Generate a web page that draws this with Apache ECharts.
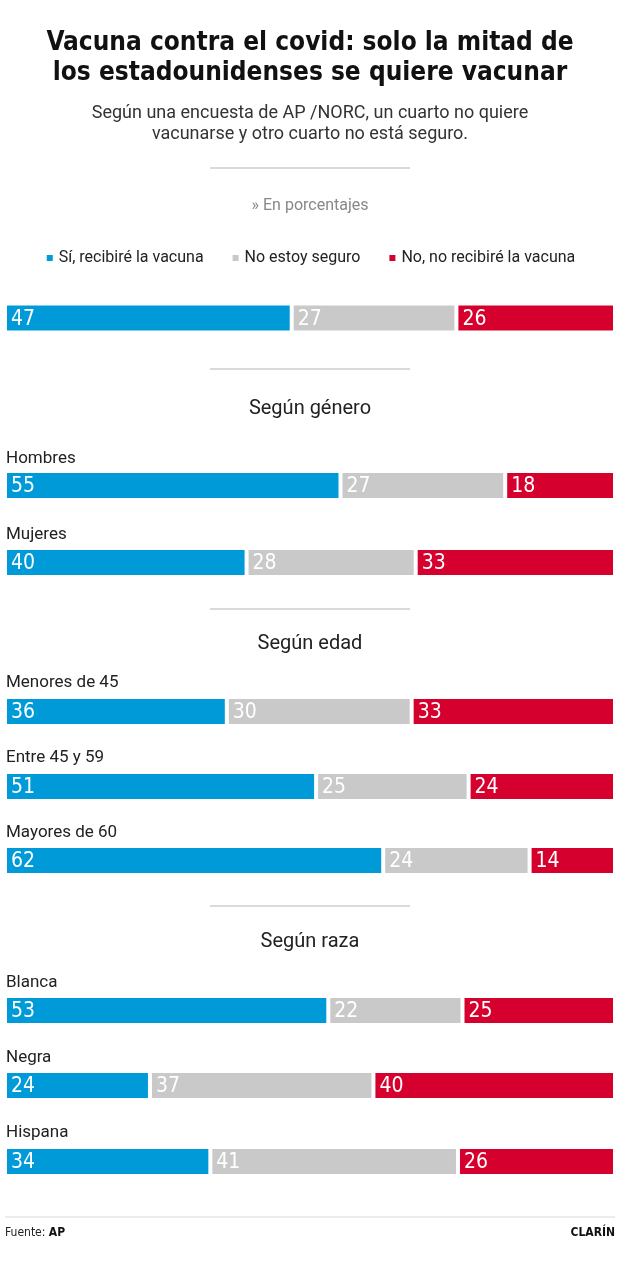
<!DOCTYPE html>
<html>
<head>
<meta charset="utf-8">
<script src="https://cdn.jsdelivr.net/npm/echarts@6/dist/echarts.min.js"></script>
<style>html,body{margin:0;padding:0;background:#fff}#c{width:620px;height:1273px}</style>
</head>
<body>
<div id="c"></div>
<script>
// ---- data ----
var categories = ['Total', 'Hombres', 'Mujeres', 'Menores de 45', 'Entre 45 y 59', 'Mayores de 60', 'Blanca', 'Negra', 'Hispana'];
var rowLabels = ['', 'Hombres', 'Mujeres', 'Menores de 45', 'Entre 45 y 59', 'Mayores de 60', 'Blanca', 'Negra', 'Hispana'];
var seriesNames = ['Sí, recibiré la vacuna', 'No estoy seguro', 'No, no recibiré la vacuna'];
var siValues = [47, 55, 40, 36, 51, 62, 53, 24, 34];
var noSeguroValues = [27, 27, 28, 30, 25, 24, 22, 37, 41];
var noValues = [26, 18, 33, 33, 24, 14, 25, 40, 26];
var sectionTitles = ['Según género', 'Según edad', 'Según raza'];

// ---- layout ----
var colors = ['#009ad8', '#c9c9c9', '#d6002f'];
var barTops = [304.5, 472, 549, 698, 773, 847, 997, 1072, 1148];
var barH = 27;
var labelYs = [0, 458.5, 534.5, 682.5, 757.5, 832.5, 982.5, 1057.5, 1132.5];
var sepYs = [168, 369, 609, 906];
var sectionYs = [408, 643, 941];
var condensed = "'DejaVu Sans Condensed', Roboto, sans-serif";
var regular = "Roboto, 'Liberation Sans', sans-serif";

var allValues = [siValues, noSeguroValues, noValues];
var grids = [], xAxes = [], yAxes = [], series = [];
categories.forEach(function (cat, i) {
  var sum = siValues[i] + noSeguroValues[i] + noValues[i];
  grids.push({ left: 5, right: 5, top: barTops[i] - 1, height: barH + 2, containLabel: false });
  xAxes.push({ type: 'value', gridIndex: i, min: 0, max: sum, show: false });
  yAxes.push({ type: 'category', gridIndex: i, data: [cat], show: false });
  for (var s = 0; s < 3; s++) {
    series.push({
      type: 'bar', name: seriesNames[s], stack: 'row' + i,
      xAxisIndex: i, yAxisIndex: i, barWidth: '100%',
      data: [allValues[s][i]],
      itemStyle: { color: colors[s], borderColor: '#fff', borderWidth: 2 },
      label: { show: true, position: 'insideLeft', distance: 6, offset: [0, 1.5], color: '#fff',
        fontSize: 21, fontFamily: condensed },
      emphasis: { disabled: true },
      silent: true
    });
  }
});

var graphics = [];
function txt(t, x, y, font, fill, align) {
  graphics.push({ type: 'text', silent: true,
    style: { text: t, x: x, y: y, font: font, fill: fill, align: align || 'left', verticalAlign: 'middle' } });
}
txt('Vacuna contra el covid: solo la mitad de', 310, 43, "bold 26px " + condensed, '#111', 'center');
txt('los estadounidenses se quiere vacunar', 310, 73, "bold 26px " + condensed, '#111', 'center');
txt('Según una encuesta de AP /NORC, un cuarto no quiere', 310, 113, "18px " + regular, '#333', 'center');
txt('vacunarse y otro cuarto no está seguro.', 310, 134, "18px " + regular, '#333', 'center');
txt('» En porcentajes', 310, 206, "16px " + regular, '#888', 'center');
sepYs.forEach(function (y) {
  graphics.push({ type: 'line', silent: true, shape: { x1: 210, y1: y, x2: 410, y2: y },
    style: { stroke: '#b5b5b5', lineWidth: 1.2 } });
});
sectionTitles.forEach(function (t, k) {
  txt(t, 310, sectionYs[k] + 1, "20px " + regular, '#222', 'center');
});
rowLabels.forEach(function (t, i) {
  if (t) txt(t, 6, labelYs[i], "17px " + regular, '#222', 'left');
});
graphics.push({ type: 'line', silent: true, shape: { x1: 5, y1: 1217, x2: 615, y2: 1217 },
  style: { stroke: '#d8d8d8', lineWidth: 1 } });
graphics.push({ type: 'text', silent: true,
  style: { text: '{a|Fuente: }{b|AP}', x: 5, y: 1233, verticalAlign: 'middle',
    rich: { a: { fontSize: 12, fontFamily: condensed, fill: '#222', color: '#222' },
            b: { fontSize: 12, fontFamily: condensed, fontWeight: 'bold', fill: '#111', color: '#111' } } } });
txt('CLARÍN', 615, 1233, "bold 12px " + condensed, '#111', 'right');

var chart = echarts.init(document.getElementById('c'), null, { renderer: 'canvas' });
chart.setOption({
  backgroundColor: '#fff',
  animation: false,
  color: colors,
  legend: {
    data: seriesNames, top: 245, left: 'center', icon: 'rect',
    itemWidth: 8, itemHeight: 8, itemGap: 27, selectedMode: false,
    textStyle: { fontSize: 16, fontFamily: regular, color: '#222' }
  },
  grid: grids, xAxis: xAxes, yAxis: yAxes, series: series,
  graphic: graphics
});
</script>
</body>
</html>
